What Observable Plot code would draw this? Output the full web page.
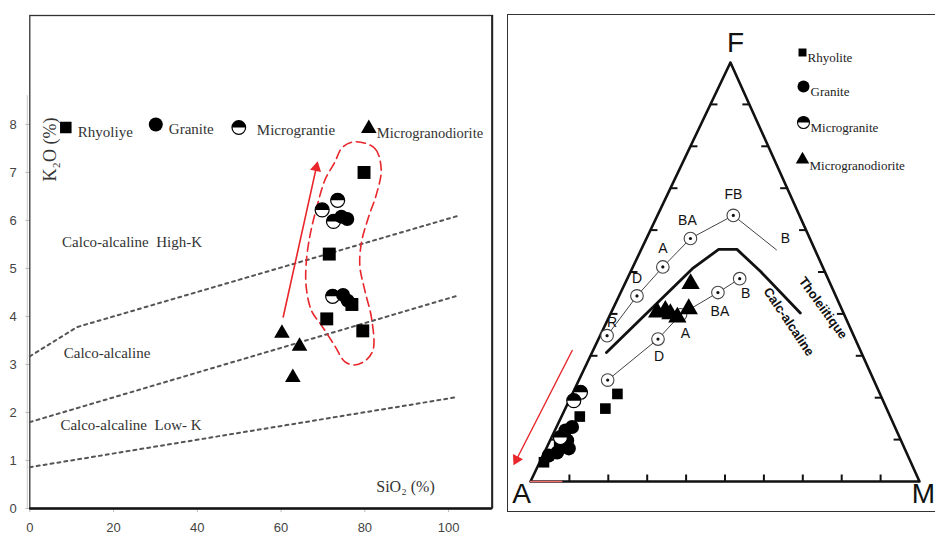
<!DOCTYPE html>
<html><head><meta charset="utf-8">
<script src="https://cdn.jsdelivr.net/npm/d3@7"></script>
<script src="https://cdn.jsdelivr.net/npm/@observablehq/plot@0.6"></script>
<style>
body{margin:0;background:#fff;}
#wrap{position:relative;width:935px;height:536px;overflow:hidden;background:#fff;}
#left{position:absolute;left:0;top:0;}
#right{position:absolute;left:500px;top:0;}
#rframe{position:absolute;left:507px;top:14px;width:460px;height:498px;border:1.5px solid #333;box-sizing:border-box;}
svg{overflow:visible;}
</style></head><body>
<div id="wrap"><div id="rframe"></div><div id="left"></div><div id="right"></div></div>
<script>
// ================= LEFT PANEL DATA : K2O vs SiO2 =================
const xTicks = [0, 20, 40, 60, 80, 100];
const yTicks = [0, 1, 2, 3, 4, 5, 6, 7, 8];
const rhyoliteSiO2 = [79.8, 71.5, 70.9, 76.9, 79.5];
const rhyoliteK2O  = [7.0, 5.3, 3.95, 4.25, 3.7];
const graniteSiO2  = [75.8, 74.4, 74.8, 75.9];
const graniteK2O   = [6.03, 6.08, 4.45, 4.33];
const micrograniteSiO2 = [69.8, 73.5, 72.5, 72.3];
const micrograniteK2O  = [6.22, 6.42, 5.98, 4.42];
const microgranodioriteSiO2 = [60.2, 64.4, 62.8];
const microgranodioriteK2O  = [3.65, 3.38, 2.73];
// series boundaries (dotted)
const highKX = [0, 11.3, 102], highKY = [3.17, 3.78, 6.09];
const calcX  = [0, 102],       calcY  = [1.80, 4.43];
const lowKX  = [0, 102],       lowKY  = [0.86, 2.32];
// red envelope + trend arrow
const envX = [77.6, 82.4, 83.9, 82.8, 80.8, 79.2, 78.8, 80.0, 81.6, 82.0, 80.4, 77.6, 75.2, 72.8, 69.6, 67.3, 66.0, 66.0, 66.9, 68.5, 70.5, 72.8, 74.6];
const envY = [7.64, 7.50, 7.06, 6.56, 6.05, 5.55, 5.05, 4.54, 3.96, 3.32, 3.10, 2.99, 3.06, 3.39, 3.82, 4.11, 4.61, 5.12, 5.69, 6.27, 6.85, 7.21, 7.52];
const arrowLX = [60.5, 68.4], arrowLY = [3.99, 7.10];
const seriesNamesLeft = ["Rhyoliye", "Granite", "Micrograntie", "Microgranodiorite"];
const regionLabels = ["Calco-alcaline  High-K", "Calco-alcaline", "Calco-alcaline  Low- K"];

// ================= RIGHT PANEL DATA : AFM ternary [A, F, M] =================
const rhyoliteAFM = [[67.5,20.9,11.6],[72.3,17.4,10.3],[79.8,15.5,4.7],[94.3,4.6,1.1],[88.5,8.5,3.0]];
const graniteAFM  = [[83.0,13.0,4.0],[85.1,12.2,2.7],[85.8,9.8,4.4],[86.3,7.9,5.8],[89.8,6.9,3.3],[92.3,6.2,1.5]];
const micrograniteAFM = [[76.8,21.3,1.9],[79.5,19.3,1.2],[87.2,10.5,2.3]];
const microgranodioriteAFM = [[35.9,47.2,16.9],[39.3,41.2,19.5],[47.8,40.4,11.8],[45.5,40.8,13.7],[44.6,40.0,15.4],[43.2,39.2,17.6]];
const tholeiiticTrend = [[63.4,34.8,1.8],[51.1,44.3,4.6],[41.1,51.2,7.7],[30.7,58.0,11.3],[17.0,63.5,19.5],[9.9,55.3,34.8]];
const tholeiiticLabels = ["R","D","A","BA","FB","B"];
const calcAlkTrend = [[68.4,24.2,7.4],[50.7,34.0,15.3],[42.1,39.8,18.1],[29.9,45.1,25.0],[22.7,48.4,28.9]];
const calcAlkLabels = ["","D","A","BA","B"];
const boundaryAFM = [[65.5,30.8,3.7],[33.7,50.8,15.5],[24.7,55.4,19.9],[20.0,55.4,24.6],[16.5,50.1,33.4],[11.1,40.2,48.7]];
const seriesNamesRight = ["Rhyolite", "Granite", "Microgranite", "Microgranodiorite"];
const ternTicks = [0.1,0.2,0.3,0.4,0.5,0.6,0.7,0.8,0.9];

// ---------- helpers ----------
const zip = (xs, ys) => xs.map((x, i) => ({x, y: ys[i]}));
const apexX = 0.514; // horizontal position of F apex (drawn triangle is not equilateral)
const cart = ([a, f, m]) => { const s = a + f + m; return {x: (m + f * apexX) / s, y: f / s}; };
const halfTop = { draw(ctx, size) { const r = Math.sqrt(size / Math.PI); ctx.moveTo(r, 0); ctx.arc(0, 0, r, 0, Math.PI, true); ctx.closePath(); } };
const angle = (sx, sy, p, q) => Math.atan2(sx.apply(q.x) - sx.apply(p.x), -(sy.apply(q.y) - sy.apply(p.y))) * 180 / Math.PI;

// ================= LEFT PLOT =================
const L = {ml: 29.3, mr: 8.3, mt: 15, mb: 28, w: 500, h: 536, xd: [0, 110.4], yd: [0, 10.27]};
const lsx = Plot.scale({x: {domain: L.xd, range: [L.ml, L.w - L.mr]}});
const lsy = Plot.scale({y: {domain: L.yd, range: [L.h - L.mb, L.mt]}});
const arrL = zip(arrowLX, arrowLY);
const serif = "Liberation Serif, Times New Roman, serif";
const sans = "Liberation Sans, Arial, sans-serif";

const rhyL = zip(rhyoliteSiO2, rhyoliteK2O);
const graL = zip(graniteSiO2, graniteK2O);
const mgrL = zip(micrograniteSiO2, micrograniteK2O);
const mgdL = zip(microgranodioriteSiO2, microgranodioriteK2O);

const leftPlot = Plot.plot({
  width: L.w, height: L.h,
  marginLeft: L.ml, marginRight: L.mr, marginTop: L.mt, marginBottom: L.mb,
  x: {domain: L.xd}, y: {domain: L.yd},
  style: {background: "transparent", fontFamily: sans},
  marks: [
    Plot.ruleX([0], {y1: 0, y2: 8.6, dx: -2.5, stroke: "#c8c8c8"}),
    Plot.axisX({ticks: xTicks, tickSize: 4, tickPadding: 10, stroke: "#bbb", fill: "#444", fontSize: 13, label: null}),
    Plot.axisY({ticks: yTicks, tickSize: 4, tickPadding: 9, stroke: "#bbb", fill: "#444", fontSize: 13, label: null}),
    Plot.frame({stroke: "#333", strokeWidth: 1.3}),
    Plot.ruleY([0], {stroke: "#111", strokeWidth: 2.6}),
    Plot.ruleX([L.xd[1]], {stroke: "#222", strokeWidth: 2}),
    // boundaries
    Plot.line(zip(highKX, highKY), {x: "x", y: "y", stroke: "#555", strokeWidth: 2, strokeDasharray: "3,4"}),
    Plot.line(zip(calcX, calcY), {x: "x", y: "y", stroke: "#555", strokeWidth: 2, strokeDasharray: "3,4"}),
    Plot.line(zip(lowKX, lowKY), {x: "x", y: "y", stroke: "#555", strokeWidth: 2, strokeDasharray: "3,4"}),
    // region labels
    Plot.text([regionLabels[0]], {x: 7.7, y: 5.55, textAnchor: "start", fontFamily: serif, fontSize: 15, fill: "#333"}),
    Plot.text([regionLabels[1]], {x: 8.1, y: 3.24, textAnchor: "start", fontFamily: serif, fontSize: 15, fill: "#333"}),
    Plot.text([regionLabels[2]], {x: 7.3, y: 1.73, textAnchor: "start", fontFamily: serif, fontSize: 15, fill: "#333"}),
    // axis titles
    Plot.text(["SiO₂ (%)"], {x: 89.7, y: 0.45, fontFamily: serif, fontSize: 16, fill: "#333"}),
    Plot.text(["K₂O (%)"], {frameAnchor: "top-left", textAnchor: "middle", dx: 13, dy: 134, rotate: -90, fontFamily: serif, fontSize: 18, fill: "#333"}),
    // red envelope
    Plot.line(zip(envX, envY), {x: "x", y: "y", curve: "catmull-rom-closed", stroke: "#e8262b", strokeWidth: 1.6, strokeDasharray: "9,5"}),
    Plot.line(arrL, {x: "x", y: "y", stroke: "#e8262b", strokeWidth: 1.6}),
    Plot.dot([arrL[1]], {x: "x", y: "y", symbol: "triangle", r: 4.2, fill: "#e8262b", rotate: angle(lsx, lsy, arrL[0], arrL[1])}),
    // data
    Plot.dot(rhyL, {x: "x", y: "y", symbol: "square", r: 7.3, fill: "black"}),
    Plot.dot(mgrL, {x: "x", y: "y", r: 7, fill: "white", stroke: "black", strokeWidth: 1.2}),
    Plot.dot(mgrL, {x: "x", y: "y", r: 7, symbol: halfTop, fill: "black"}),
    Plot.dot(graL, {x: "x", y: "y", r: 7, fill: "black"}),
    Plot.dot(mgdL, {x: "x", y: "y", symbol: "triangle", r: 5.8, fill: "black"}),
    // legend
    Plot.dot([0], {frameAnchor: "top-left", dx: 36, dy: 112, symbol: "square", r: 6.5, fill: "black"}),
    Plot.text([seriesNamesLeft[0]], {frameAnchor: "top-left", dx: 48, dy: 111, textAnchor: "start", fontFamily: serif, fontSize: 15, fill: "#333"}),
    Plot.dot([0], {frameAnchor: "top-left", dx: 126, dy: 109, r: 7, fill: "black"}),
    Plot.text([seriesNamesLeft[1]], {frameAnchor: "top-left", dx: 139, dy: 108, textAnchor: "start", fontFamily: serif, fontSize: 15, fill: "#333"}),
    Plot.dot([0], {frameAnchor: "top-left", dx: 209, dy: 112, r: 6.8, fill: "white", stroke: "black", strokeWidth: 1.2}),
    Plot.dot([0], {frameAnchor: "top-left", dx: 209, dy: 112, r: 6.8, symbol: halfTop, fill: "black"}),
    Plot.text([seriesNamesLeft[2]], {frameAnchor: "top-left", dx: 227, dy: 109, textAnchor: "start", fontFamily: serif, fontSize: 15, fill: "#333"}),
    Plot.dot([0], {frameAnchor: "top-left", dx: 339, dy: 113, symbol: "triangle", r: 5.8, fill: "black"}),
    Plot.text([seriesNamesLeft[3]], {frameAnchor: "top-left", dx: 347, dy: 112, textAnchor: "start", fontFamily: serif, fontSize: 14.5, fill: "#333"})
  ]
});
document.getElementById("left").append(leftPlot);

// ================= RIGHT PLOT (AFM) =================
const R = {ml: 30, mr: 16, mt: 62, mb: 55, w: 435, h: 536};
const rsx = Plot.scale({x: {domain: [0, 1], range: [R.ml, R.w - R.mr]}});
const rsy = Plot.scale({y: {domain: [0, 1], range: [R.h - R.mb, R.mt]}});
const pxX = 1 / (R.w - R.ml - R.mr), pxY = 1 / (R.h - R.mt - R.mb);
const vA = cart([1, 0, 0]), vF = cart([0, 1, 0]), vM = cart([0, 0, 1]);
const outline = [vA, vM, vF, vA];
const tickLinks = [];
for (const t of ternTicks) {
  const b = cart([1 - t, 0, t]);  tickLinks.push({x1: b.x, y1: b.y, x2: b.x, y2: b.y + 7 * pxY});
  const l = cart([1 - t, t, 0]);  tickLinks.push({x1: l.x, y1: l.y, x2: l.x + 7 * pxX, y2: l.y});
  const r = cart([0, t, 1 - t]);  tickLinks.push({x1: r.x, y1: r.y, x2: r.x - 7 * pxX, y2: r.y});
}
const thol = tholeiiticTrend.map(cart);
const calc = calcAlkTrend.map(cart);
const bound = boundaryAFM.map(cart);
const tholLabelOffsets = [[5,-13],[0,-17],[0,-18],[-3,-18],[0,-21],[9,-11]];
const calcLabelOffsets = [[0,0],[1,17],[5,19],[2,19],[6,15]];
const arrR = [{x: 0.1072, y: 0.3126}, {x: -0.036, y: 0.0525}];
const redBase = [cart([1,0,0]), cart([0.92,0,0.08])];

const rightPlot = Plot.plot({
  width: R.w, height: R.h,
  marginLeft: R.ml, marginRight: R.mr, marginTop: R.mt, marginBottom: R.mb,
  x: {domain: [0, 1], axis: null}, y: {domain: [0, 1], axis: null},
  style: {background: "transparent", fontFamily: sans},
  marks: [
    Plot.line(outline, {x: "x", y: "y", stroke: "#111", strokeWidth: 2.6}),
    Plot.line(redBase, {x: "x", y: "y", stroke: "#f07070", strokeWidth: 1.6}),
    Plot.link(tickLinks, {x1: "x1", y1: "y1", x2: "x2", y2: "y2", stroke: "#111", strokeWidth: 2}),
    // corner labels
    Plot.text(["A"], {x: vA.x, y: vA.y, dx: -9, dy: 13, fontSize: 28, fill: "#111"}),
    Plot.text(["F"], {x: vF.x, y: vF.y, dx: 5, dy: -19, fontSize: 28, fill: "#111"}),
    Plot.text(["M"], {x: vM.x, y: vM.y, dx: 4, dy: 13, fontSize: 28, fill: "#111"}),
    // trends
    Plot.line(bound, {x: "x", y: "y", stroke: "#111", strokeWidth: 2.8}),
    Plot.line(thol, {x: "x", y: "y", stroke: "#444", strokeWidth: 1}),
    Plot.line(calc, {x: "x", y: "y", stroke: "#444", strokeWidth: 1}),
    Plot.dot(thol.slice(0, 5), {x: "x", y: "y", r: 6.3, fill: "white", stroke: "#444", strokeWidth: 1.1}),
    Plot.dot(thol.slice(0, 5), {x: "x", y: "y", r: 1.6, fill: "#111"}),
    Plot.dot(calc, {x: "x", y: "y", r: 6.3, fill: "white", stroke: "#444", strokeWidth: 1.1}),
    Plot.dot(calc, {x: "x", y: "y", r: 1.6, fill: "#111"}),
    ...calc.map((p, i) => Plot.text([calcAlkLabels[i]], {x: p.x, y: p.y, dx: calcLabelOffsets[i][0], dy: calcLabelOffsets[i][1], fontSize: 14, fill: "#111"})),
    ...thol.map((p, i) => Plot.text([tholeiiticLabels[i]], {x: p.x, y: p.y, dx: tholLabelOffsets[i][0], dy: tholLabelOffsets[i][1], fontSize: 14, fill: "#111"})),
    Plot.text(["Tholeiitique"], {x: 0.7519, y: 0.4141, rotate: 54, fontSize: 13, fontWeight: "bold", fill: "#111"}),
    Plot.text(["Calc-alcaline"], {x: 0.6640, y: 0.3811, rotate: 56, fontSize: 13, fontWeight: "bold", fill: "#111"}),
    // red arrow
    Plot.line(arrR, {x: "x", y: "y", stroke: "#e8262b", strokeWidth: 1.4}),
    Plot.dot([arrR[1]], {x: "x", y: "y", symbol: "triangle", r: 4.2, fill: "#e8262b", rotate: angle(rsx, rsy, arrR[0], arrR[1])}),
    // data
    Plot.dot(rhyoliteAFM.map(cart), {x: "x", y: "y", symbol: "square", r: 6, fill: "black"}),
    Plot.dot(graniteAFM.map(cart), {x: "x", y: "y", r: 7, fill: "black"}),
    Plot.dot(micrograniteAFM.map(cart), {x: "x", y: "y", r: 7, fill: "white", stroke: "black", strokeWidth: 1.2}),
    Plot.dot(micrograniteAFM.map(cart), {x: "x", y: "y", r: 7, symbol: halfTop, fill: "black"}),
    Plot.dot(microgranodioriteAFM.map(cart), {x: "x", y: "y", symbol: "triangle", r: 6.8, fill: "black"}),
    // legend
    Plot.dot([0], {frameAnchor: "top-left", dx: 272, dy: -10, symbol: "square", r: 4.5, fill: "black"}),
    Plot.text([seriesNamesRight[0]], {frameAnchor: "top-left", dx: 277, dy: -10, textAnchor: "start", fontFamily: serif, fontSize: 13, fill: "#222"}),
    Plot.dot([0], {frameAnchor: "top-left", dx: 273, dy: 24, r: 6, fill: "black"}),
    Plot.text([seriesNamesRight[1]], {frameAnchor: "top-left", dx: 280, dy: 24, textAnchor: "start", fontFamily: serif, fontSize: 13, fill: "#222"}),
    Plot.dot([0], {frameAnchor: "top-left", dx: 273, dy: 60, r: 6, fill: "white", stroke: "black", strokeWidth: 1.1}),
    Plot.dot([0], {frameAnchor: "top-left", dx: 273, dy: 60, r: 6, symbol: halfTop, fill: "black"}),
    Plot.text([seriesNamesRight[2]], {frameAnchor: "top-left", dx: 280, dy: 60, textAnchor: "start", fontFamily: serif, fontSize: 13, fill: "#222"}),
    Plot.dot([0], {frameAnchor: "top-left", dx: 272, dy: 97, symbol: "triangle", r: 5, fill: "black"}),
    Plot.text([seriesNamesRight[3]], {frameAnchor: "top-left", dx: 279, dy: 98, textAnchor: "start", fontFamily: serif, fontSize: 13, fill: "#222"})
  ]
});
document.getElementById("right").append(rightPlot);
</script>
</body></html>
